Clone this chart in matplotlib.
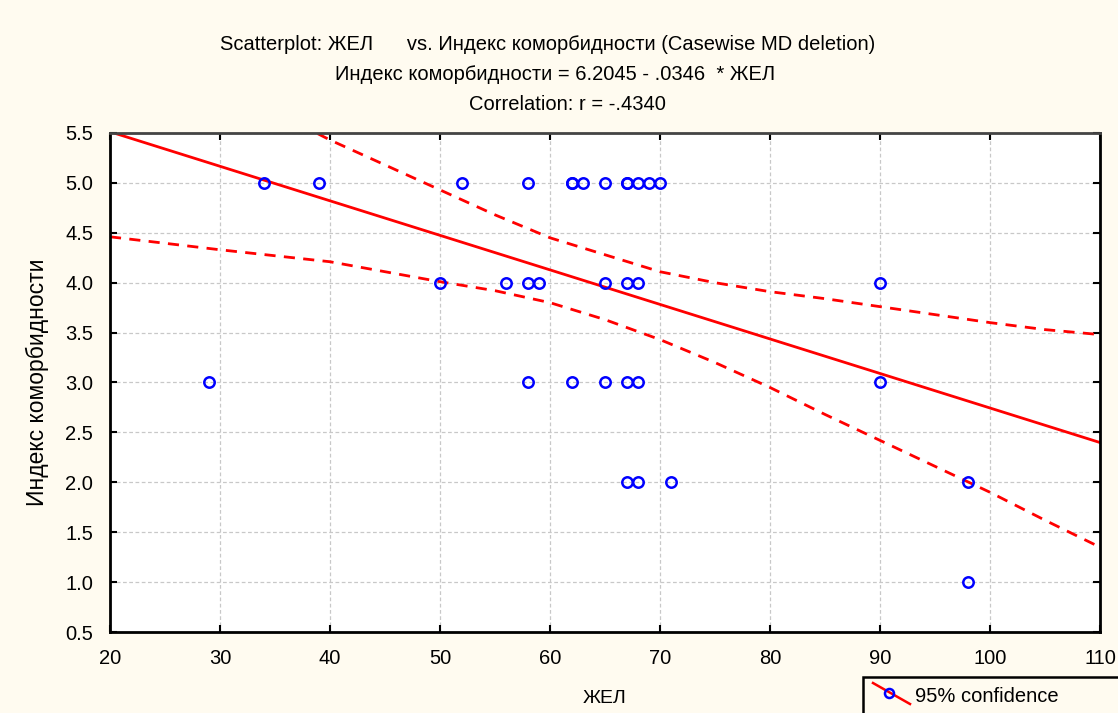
import numpy as np
import matplotlib
matplotlib.use("Agg")
import matplotlib.pyplot as plt
from matplotlib.lines import Line2D
from matplotlib.patches import Rectangle

plt.rcParams['font.family'] = ['Liberation Sans', 'DejaVu Sans']

zhel_5 = [34, 39, 52, 58, 62, 62, 63, 65, 67, 67, 68, 69, 70]
zhel_4 = [50, 56, 58, 59, 65, 67, 68, 90]
zhel_3 = [29, 58, 62, 65, 67, 68, 90]
zhel_2 = [67, 68, 71, 98]
zhel_1 = [98]

# fit printed in the header
intercept = 6.2045
slope = -0.0346

# 95% confidence band
band_x = [20, 30, 40, 50, 55, 60, 65, 70, 75, 80, 85, 90, 95, 100, 105, 110]
band_lo = [4.46, 4.33, 4.21, 4.01, 3.92, 3.80, 3.63, 3.43, 3.20, 2.95, 2.68, 2.42, 2.16, 1.90, 1.62, 1.35]
band_hi = [6.56, 6.00, 5.43, 4.93, 4.68, 4.45, 4.28, 4.11, 4.00, 3.91, 3.84, 3.76, 3.68, 3.60, 3.53, 3.48]

xs = zhel_5 + zhel_4 + zhel_3 + zhel_2 + zhel_1
ys = [5] * len(zhel_5) + [4] * len(zhel_4) + [3] * len(zhel_3) + [2] * len(zhel_2) + [1] * len(zhel_1)

bg = '#fffbf0'
fig = plt.figure(figsize=(11.18, 7.13), dpi=100, facecolor=bg)
ax = fig.add_axes([110 / 1118, 1 - 632 / 713, 990 / 1118, 499 / 713])
ax.set_facecolor('white')

ax.set_xlim(20, 110)
ax.set_ylim(0.5, 5.5)
ax.set_xticks(np.arange(20, 111, 10))
ax.set_yticks(np.arange(0.5, 5.51, 0.5))
ax.set_yticklabels([f'{v:.1f}' for v in np.arange(0.5, 5.51, 0.5)])
ax.grid(True, color='#c8c8c8', linestyle=(0, (3, 2)), linewidth=0.9)
ax.set_axisbelow(True)
ax.tick_params(direction='in', length=5, width=1.5, top=True, right=True,
               labelsize=14.5)
ax.tick_params(axis='x', pad=12)
ax.tick_params(axis='y', pad=12)
for s in ax.spines.values():
    s.set_linewidth(2)
    s.set_color('black')
ax.spines['top'].set_color('#444444')

fx = np.array([20, 110])
ax.plot(fx, intercept + slope * fx, color='red', linewidth=2)
ax.plot(band_x, band_lo, color='red', linewidth=2, linestyle=(0, (4, 3)))
ax.plot(band_x, band_hi, color='red', linewidth=2, linestyle=(0, (4, 3)))
ax.plot(xs, ys, linestyle='none', marker='o', markersize=7.5, markerfacecolor='none',
        markeredgecolor='blue', markeredgewidth=1.8, clip_on=False)

ax.set_xlabel('ЖЕЛ', fontsize=14, labelpad=16)
ax.set_ylabel('Индекс коморбидности', fontsize=16.5, labelpad=12)

fig.text(548 / 1118, 1 - 45 / 713,
         'Scatterplot: ЖЕЛ      vs. Индекс коморбидности (Casewise MD deletion)',
         ha='center', va='center', fontsize=14.5)
fig.text(555 / 1118, 1 - 75 / 713, 'Индекс коморбидности = 6.2045 - .0346  * ЖЕЛ',
         ha='center', va='center', fontsize=14.5)
fig.text(567 / 1118, 1 - 105 / 713, 'Correlation: r = -.4340',
         ha='center', va='center', fontsize=14.5)

# legend box at the bottom right, partly cut off like the original
fig.add_artist(Rectangle((863 / 1118, -0.02), 0.3, (713 - 677) / 713 + 0.02,
                         transform=fig.transFigure, facecolor=bg, edgecolor='black',
                         linewidth=1.8))
fig.add_artist(Line2D([873 / 1118, 910 / 1118], [1 - 683 / 713, 1 - 704 / 713],
                      transform=fig.transFigure, color='red', linewidth=1.8))
fig.add_artist(Line2D([889 / 1118], [1 - 693 / 713], transform=fig.transFigure,
                      marker='o', markersize=6.5, markerfacecolor='none',
                      markeredgecolor='blue', markeredgewidth=1.8))
fig.text(915 / 1118, 1 - 697 / 713, '95% confidence', ha='left', va='center',
         fontsize=14.5)

fig.savefig('out.png', dpi=100, facecolor=bg)
